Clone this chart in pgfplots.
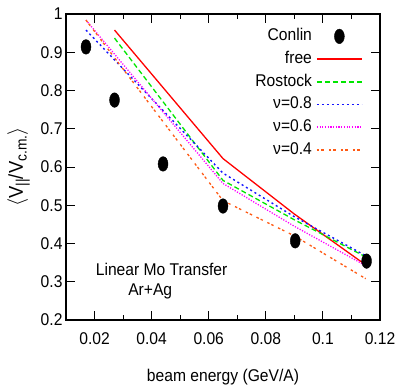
\documentclass[border=0pt]{standalone}
\usepackage{fontspec}
\setmainfont[FakeStretch=0.92]{Liberation Sans}
\usepackage{pgfplots}
\pgfplotsset{compat=1.18}
\definecolor{cgreen}{RGB}{0,230,0}
\definecolor{cpink}{RGB}{255,0,255}
\definecolor{corange}{RGB}{255,90,20}
\definecolor{cblue}{RGB}{20,20,255}
\newcommand{\fs}{\fontsize{17}{20}\selectfont}
\newcommand{\sub}[1]{\raisebox{-0.35ex}{\fontsize{15}{15}\selectfont #1}}
\begin{document}
\begin{tikzpicture}[font=\fs]
\useasboundingbox (-66pt,-66pt) rectangle (333pt,320pt);
\begin{axis}[
  scale only axis, width=314pt, height=306pt,
  xmin=0.01, xmax=0.12, ymin=0.2, ymax=1,
  xtick={0.02,0.04,0.06,0.08,0.1,0.12},
  ytick={0.2,0.3,0.4,0.5,0.6,0.7,0.8,0.9,1},
  minor x tick num=1,
  tick align=inside, major tick length=9pt, minor tick length=5pt,
  axis line style={line width=1.1pt}, tick style={line width=0.9pt, black},
  /pgf/number format/assume math mode=true,
  xticklabel style={/pgf/number format/fixed, /pgf/number format/precision=2, font=\fs, yshift=-9pt},
  yticklabel style={/pgf/number format/fixed, /pgf/number format/precision=1, font=\fs},
  xlabel={beam energy (GeV/A)},
  ylabel={\fontsize{20}{22}\selectfont$\langle$V\sub{||}/V\sub{c.m.}$\rangle$},
  label style={font=\fs},
  xlabel style={yshift=-18pt},
  ylabel style={yshift=4pt},
  legend plot pos=right, legend cell align=right,
  legend style={draw=none, fill=none, font=\fs, at={(axis description cs:0.946,0.952)}, anchor=north east,
    row sep=7.7pt, inner sep=0pt, column sep=4pt,
    nodes={inner sep=0pt, text height=12pt, text depth=3pt}},
  legend image code/.code={\draw[mark repeat=2,mark phase=2,#1,line width=1.9pt] plot coordinates {(0pt,0pt) (22.5pt,0pt) (45pt,0pt)};},
]
\addplot[only marks, mark=*, mark size=7.3pt, mark options={xscale=0.68, fill=black, draw=black, line width=0.4pt}] coordinates {
 (0.017,0.914) (0.027,0.775) (0.044,0.608) (0.065,0.498) (0.0903,0.407) (0.1153,0.354)};
\addlegendentry{Conlin}
\addplot[color=red, line width=1.3pt] coordinates {(0.027,0.958) (0.065,0.622) (0.09,0.477) (0.115,0.344)};
\addlegendentry{free}
\addplot[color=cgreen, line width=1.3pt, dash pattern=on 5pt off 3pt] coordinates {(0.027,0.937) (0.065,0.565) (0.09,0.462) (0.115,0.365)};
\addlegendentry{Rostock}
\addplot[color=cblue, line width=1.4pt, dash pattern=on 2pt off 3pt] coordinates {(0.017,0.958) (0.065,0.584) (0.09,0.47) (0.115,0.368)};
\addlegendentry{ν=0.8}
\addplot[color=cpink, line width=1.3pt, dash pattern=on 1.2pt off 1.5pt] coordinates {(0.017,0.984) (0.065,0.557) (0.09,0.445) (0.115,0.342)};
\addlegendentry{ν=0.6}
\addplot[color=corange, line width=1.3pt, dash pattern=on 2.5pt off 2pt on 2.5pt off 5pt] coordinates {(0.017,0.984) (0.065,0.512) (0.09,0.42) (0.115,0.308)};
\addlegendentry{ν=0.4}
\node[font=\fs, inner sep=0pt] at (axis cs:0.0435,0.333) {Linear Mo Transfer};
\node[font=\fs, inner sep=0pt] at (axis cs:0.0395,0.274) {Ar+Ag};
\end{axis}
\end{tikzpicture}
\end{document}
